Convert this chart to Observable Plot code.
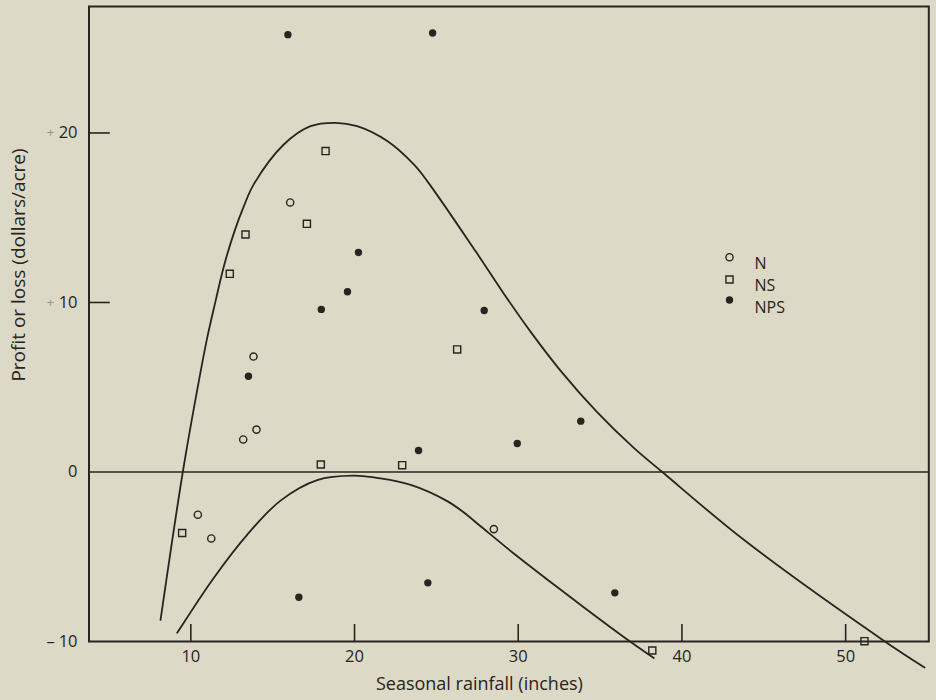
<!DOCTYPE html>
<html><head><meta charset="utf-8">
<script src="https://cdn.jsdelivr.net/npm/d3@7"></script>
<script src="https://cdn.jsdelivr.net/npm/@observablehq/plot@0.6"></script>
<style>
html,body{margin:0;padding:0;background:#dcd9c7;}
#chart svg{display:block;}
</style></head><body><div id="chart"></div>
<script>
// Series N (open circles)
const nRain   = [16.07, 13.83, 14.01, 13.20, 10.43, 11.25, 28.51];
const nProfit = [15.90, 6.81, 2.50, 1.92, -2.52, -3.92, -3.37];
// Series NS (open squares)
const nsRain   = [18.23, 17.09, 13.34, 12.38, 26.27, 17.94, 22.91, 9.47, 38.19, 51.15];
const nsProfit = [18.93, 14.64, 14.01, 11.69, 7.23, 0.44, 0.40, -3.60, -10.53, -9.98];
// Series NPS (filled dots)
const npsRain   = [15.93, 24.77, 20.24, 19.57, 17.97, 13.52, 27.92, 33.82, 29.94, 23.91, 16.60, 24.48, 35.90];
const npsProfit = [25.80, 25.90, 12.95, 10.63, 9.59, 5.65, 9.53, 3.00, 1.68, 1.27, -7.39, -6.54, -7.13];
// Upper fitted curve
const upperRain   = [8.15, 9.51, 10.49, 11.0, 11.51, 12.02, 12.63, 13.24, 13.85, 15.68, 17.31, 18.84, 20.16, 22.0, 23.62, 24.44, 27.39, 29.12, 30.75, 32.58, 34.82, 37.06, 38.8, 43.78, 52.33, 54.82];
const upperProfit = [-8.73, 0, 5.36, 7.91, 10.08, 12.14, 14.09, 15.68, 16.98, 19.32, 20.4, 20.6, 20.4, 19.52, 18.14, 17.16, 13.03, 10.52, 8.28, 5.98, 3.53, 1.42, 0, -4.0, -9.95, -11.53];
// Lower fitted curve
const lowerRain   = [9.17, 11.4, 13.45, 15.48, 17.72, 19.92, 21.59, 23.48, 25.66, 26.68, 27.7, 29.73, 31.77, 33.8, 36.66, 38.28];
const lowerProfit = [-9.49, -6.25, -3.69, -1.69, -0.48, -0.22, -0.38, -0.78, -1.72, -2.39, -3.2, -4.81, -6.34, -7.83, -9.88, -10.97];
// Axis ticks and labels
const xTicks = [10, 20, 30, 40, 50];
const yTicks = [-10, 0, 10, 20];
const yTickNumbers = ["10", "0", "10", "20"];
const yTickSigns = ["\u2013", "", "+", "+"];
const legendNames = ["N", "NS", "NPS"];
const xLabel = "Seasonal rainfall (inches)";
const yLabel = "Profit or loss (dollars/acre)";

const zip = (xs, ys) => xs.map((x, i) => ({x, y: ys[i]}));
const ink = "#2a2320";
const FONT = "'Open Sans', Lato, sans-serif";
const xDom = [3.78, 55.08], yDom = [-10, 27.46];

// legend layout (pixel offsets from the top-left of the frame)
const legX = 640.5, legTextX = 665.5;
const legSymY = [250.7, 273, 293.5], legTextY = [251.5, 273.5, 295.5];
const legendMarks = [
  Plot.dot([0], {frameAnchor: "top-left", dx: legX, dy: legSymY[0], r: 3.6, stroke: ink, strokeWidth: 1.4, fill: "none"}),
  Plot.dot([0], {frameAnchor: "top-left", dx: legX, dy: legSymY[1], symbol: "square", r: 4, stroke: ink, strokeWidth: 1.4, fill: "none"}),
  Plot.dot([0], {frameAnchor: "top-left", dx: legX, dy: legSymY[2], r: 3.7, fill: ink}),
  ...legendNames.map((name, i) => Plot.text([name], {frameAnchor: "top-left", dx: legTextX, dy: legTextY[i], text: d => d, textAnchor: "start", fontSize: 16, fill: ink}))
];

const chart = Plot.plot({
  width: 936, height: 700,
  marginLeft: 88.5, marginRight: 7.7, marginTop: 6, marginBottom: 59,
  style: {background: "#dcd9c7", fontFamily: FONT, color: ink, overflow: "visible"},
  x: {domain: xDom, axis: null},
  y: {domain: yDom, axis: null},
  marks: [
    Plot.frame({stroke: ink, strokeWidth: 2}),
    Plot.ruleY([0], {stroke: ink, strokeWidth: 1.6}),
    // inward ticks
    Plot.ruleX(xTicks, {x: d => d, y1: -10, y2: -9.0, stroke: ink, strokeWidth: 1.6}),
    Plot.ruleY(yTicks.filter(d => d > 0), {y: d => d, x1: xDom[0], x2: xDom[0] + 1.3, stroke: ink, strokeWidth: 1.6}),
    // tick labels
    Plot.text(xTicks, {x: d => d, frameAnchor: "bottom", dy: 20, textAnchor: "middle", text: d => String(d), fontSize: 16.5, fill: ink}),
    Plot.text(yTicks, {y: d => d, frameAnchor: "left", dx: -11.5, textAnchor: "end", text: (d, i) => yTickNumbers[i], fontSize: 16.5, fill: ink}),
    Plot.text(yTicks, {y: d => d, frameAnchor: "left", dx: -38.5, textAnchor: "middle", text: (d, i) => yTickSigns[i], fontSize: d => d > 0 ? 13 : 16.5, fill: d => d > 0 ? "#9a968a" : ink}),
    // axis titles
    Plot.text([xLabel], {frameAnchor: "bottom", dx: -29.5, dy: 48, textAnchor: "middle", text: d => d, fontSize: 18, fill: ink}),
    Plot.text([yLabel], {frameAnchor: "left", dx: -70.5, dy: -59, textAnchor: "middle", rotate: -90, text: d => d, fontSize: 19, fill: ink}),
    // fitted curves
    Plot.line(zip(upperRain, upperProfit), {x: "x", y: "y", curve: "catmull-rom", stroke: ink, strokeWidth: 1.8}),
    Plot.line(zip(lowerRain, lowerProfit), {x: "x", y: "y", curve: "catmull-rom", stroke: ink, strokeWidth: 1.8}),
    // observations
    Plot.dot(zip(nRain, nProfit), {x: "x", y: "y", r: 3.6, stroke: ink, strokeWidth: 1.4, fill: "none"}),
    Plot.dot(zip(nsRain, nsProfit), {x: "x", y: "y", symbol: "square", r: 4, stroke: ink, strokeWidth: 1.4, fill: "none"}),
    Plot.dot(zip(npsRain, npsProfit), {x: "x", y: "y", r: 3.7, fill: ink}),
    ...legendMarks
  ]
});
document.getElementById("chart").append(chart);
</script>
</body></html>
